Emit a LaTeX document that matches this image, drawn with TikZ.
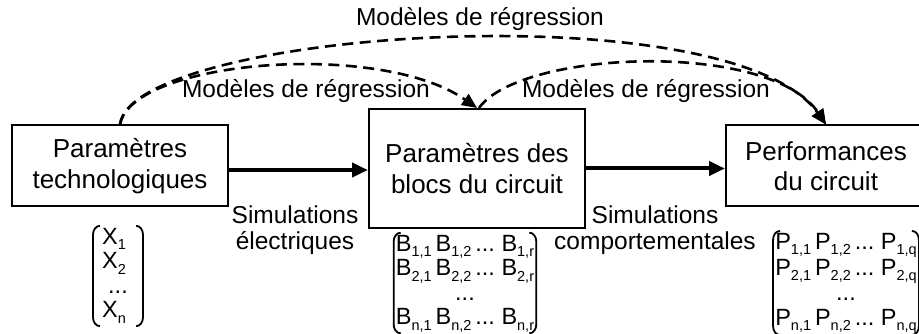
\documentclass[tikz,border=0pt]{standalone}
\usepackage{fontspec}
\setmainfont{Liberation Sans}
\usetikzlibrary{arrows.meta,calc}
\newcommand{\sbs}[1]{\raisebox{-0.45ex}{\fontsize{14.5}{14.5}\selectfont #1}}
\newcommand{\brackets}[1]{%
  \draw[brk] ([xshift=7pt]#1.north west) to[out=180,in=90] ([yshift=-9pt]#1.north west)
     -- ([yshift=9pt]#1.south west) to[out=-90,in=180] ([xshift=7pt]#1.south west);
  \draw[brk] ([xshift=-7pt]#1.north east) to[out=0,in=90] ([yshift=-9pt]#1.north east)
     -- ([yshift=9pt]#1.south east) to[out=-90,in=0] ([xshift=-7pt]#1.south east);}
\begin{document}
\begin{tikzpicture}[x=1pt,y=-1pt,
  box/.style={draw,line width=2pt,align=center,font=\fontsize{26}{30.5}\selectfont},
  lbl/.style={align=center,font=\fontsize{24.5}{26}\selectfont},
  mat/.style={inner xsep=2pt,inner ysep=1pt,font=\fontsize{23.5}{24.5}\selectfont},
  brk/.style={line width=1.8pt},
  bigarrow/.style={line width=4pt,-{Triangle[length=16pt,width=14pt]}},
  dsh/.style={line width=2.6pt,dash pattern=on 11pt off 6.5pt,-{Triangle[length=15pt,width=13pt]}}]
\clip (0,0) rectangle (919,334);
\node[box,minimum width=216,minimum height=81] (b1) at (120,166) {Paramètres\\technologiques};
\node[box,minimum width=216,minimum height=119] (b2) at (477,168.5) {Paramètres des\\blocs du circuit};
\node[box,minimum width=200,minimum height=81,inner sep=0pt] (b3) at (826,166) {Performances\\du circuit};

\draw[bigarrow] ([yshift=-4pt]b1.east) -- ([yshift=-4pt]b1.east -| b2.west);
\draw[bigarrow] (b2.east) -- (b2.east -| b3.west);

\draw[dsh] (b1.north) .. controls (132,60) and (380,40) .. (b2.north);
\draw[dsh] ([xshift=2pt]b2.north) .. controls (520,50) and (770,40) .. (b3.north);
\draw[dsh] (b1.north) .. controls (132,30) and (730,-10) .. (b3.north);

\node[lbl] (t0) at (480,19) {Modèles de régression};
\node[lbl] (t1) at (306,91) {Modèles de régression};
\node[lbl] (t2) at (646,91) {Modèles de régression};
\node[lbl] (s1) at (295,230) {Simulations\\électriques};
\node[lbl] (s2) at (655,230) {Simulations\\comportementales};

\node[mat,inner xsep=9pt] (mx) at (118,276) {\begin{tabular}{@{}l@{}}X\sbs{1}\\X\sbs{2}\\\multicolumn{1}{c}{...}\\X\sbs{n}\end{tabular}};
\brackets{mx}
\node[mat] (mb) at (465,283) {\begin{tabular}{@{}l@{\,}l@{\,}l@{\;}l@{}}B\sbs{1,1}&B\sbs{1,2}&...&B\sbs{1,r}\\B\sbs{2,1}&B\sbs{2,2}&...&B\sbs{2,r}\\\multicolumn{4}{c}{...}\\B\sbs{n,1}&B\sbs{n,2}&...&B\sbs{n,r}\end{tabular}};
\brackets{mb}
\node[mat] (mp) at (846,283) {\begin{tabular}{@{}l@{\,}l@{\,}l@{\;}l@{}}P\sbs{1,1}&P\sbs{1,2}&...&P\sbs{1,q}\\P\sbs{2,1}&P\sbs{2,2}&...&P\sbs{2,q}\\\multicolumn{4}{c}{...}\\P\sbs{n,1}&P\sbs{n,2}&...&P\sbs{n,q}\end{tabular}};
\brackets{mp}
\end{tikzpicture}
\end{document}
